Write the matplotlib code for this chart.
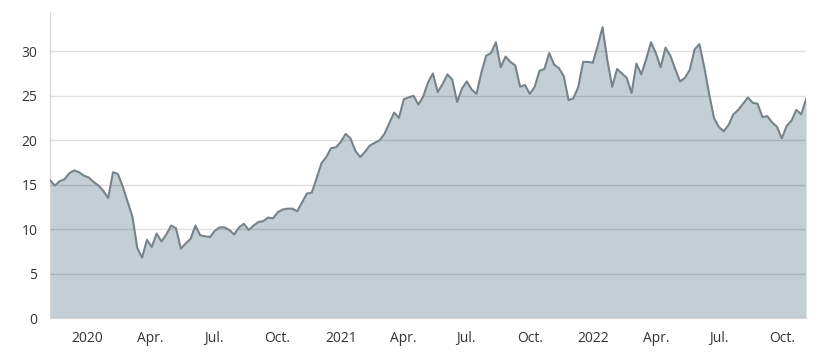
import matplotlib
matplotlib.use('Agg')
import matplotlib.pyplot as plt
import pandas as pd

plt.rcParams['font.family'] = ['Open Sans', 'DejaVu Sans']

# weekly closing prices
start_date = '2019-11-08'
prices = [
    15.5, 14.9, 15.4, 15.6, 16.3, 16.6, 16.4, 16.0, 15.8, 15.3,
    14.9, 14.3, 13.5, 16.4, 16.2, 14.8, 13.1, 11.4, 7.9, 6.8,
    8.8, 8.0, 9.5, 8.6, 9.4, 10.4, 10.1, 7.8, 8.4, 8.9,
    10.4, 9.3, 9.2, 9.1, 9.8, 10.2, 10.2, 9.9, 9.4, 10.2,
    10.6, 9.9, 10.4, 10.8, 10.9, 11.3, 11.2, 11.9, 12.2, 12.3,
    12.3, 12.0, 13.0, 14.0, 14.1, 15.7, 17.4, 18.1, 19.1, 19.2,
    19.8, 20.7, 20.2, 18.8, 18.1, 18.7, 19.4, 19.7, 20.0, 20.7,
    21.9, 23.1, 22.5, 24.6, 24.8, 25.0, 24.0, 24.9, 26.5, 27.5,
    25.4, 26.3, 27.4, 26.8, 24.3, 25.8, 26.6, 25.7, 25.2, 27.6,
    29.5, 29.8, 31.0, 28.2, 29.4, 28.8, 28.4, 26.0, 26.2, 25.2,
    26.0, 27.8, 28.0, 29.8, 28.5, 28.1, 27.2, 24.5, 24.7, 26.0,
    28.8, 28.8, 28.7, 30.6, 32.7, 29.0, 26.0, 28.0, 27.5, 27.0,
    25.3, 28.6, 27.4, 29.1, 31.0, 29.8, 28.2, 30.4, 29.5, 28.0,
    26.6, 27.0, 27.9, 30.2, 30.8, 28.2, 25.2, 22.5, 21.5, 21.0,
    21.7, 22.9, 23.4, 24.1, 24.8, 24.2, 24.1, 22.6, 22.7, 22.0,
    21.5, 20.2, 21.6, 22.2, 23.4, 22.9, 24.6,
]
dates = pd.date_range(start_date, periods=len(prices), freq='7D')

tick_dates = pd.to_datetime(['2020-01-01', '2020-04-01', '2020-07-01', '2020-10-01',
                             '2021-01-01', '2021-04-01', '2021-07-01', '2021-10-01',
                             '2022-01-01', '2022-04-01', '2022-07-01', '2022-10-01'])
tick_labels = ['2020', 'Apr.', 'Jul.', 'Oct.', '2021', 'Apr.', 'Jul.', 'Oct.',
               '2022', 'Apr.', 'Jul.', 'Oct.']
y_ticks = [0, 5, 10, 15, 20, 25, 30]

fig = plt.figure(figsize=(8.2, 3.55), dpi=100)
ax = fig.add_axes([0.061, 0.104, 0.922, 0.862])

ax.fill_between(dates, prices, 0, color='#c3ced5', linewidth=0, zorder=1)
ax.plot(dates, prices, color='#76838a', linewidth=1.5, zorder=3)

ax.set_xlim(dates[0], dates[-1])
ax.set_ylim(0, 34.4)
ax.set_yticks(y_ticks)
ax.set_xticks(tick_dates)
ax.set_xticklabels(tick_labels)

# grid drawn over the fill, so it shows darker inside the area
ax.grid(axis='y', color='black', alpha=0.12, linewidth=1, zorder=2)
ax.set_axisbelow(False)

for s in ['top', 'right']:
    ax.spines[s].set_visible(False)
ax.spines['left'].set_color('#d6d6d6')
ax.spines['bottom'].set_color('#d6d6d6')
ax.tick_params(length=0, labelsize=10, colors='#333333')
ax.tick_params(axis='y', pad=9)
ax.tick_params(axis='x', pad=9)

plt.savefig('out.png', dpi=100)
